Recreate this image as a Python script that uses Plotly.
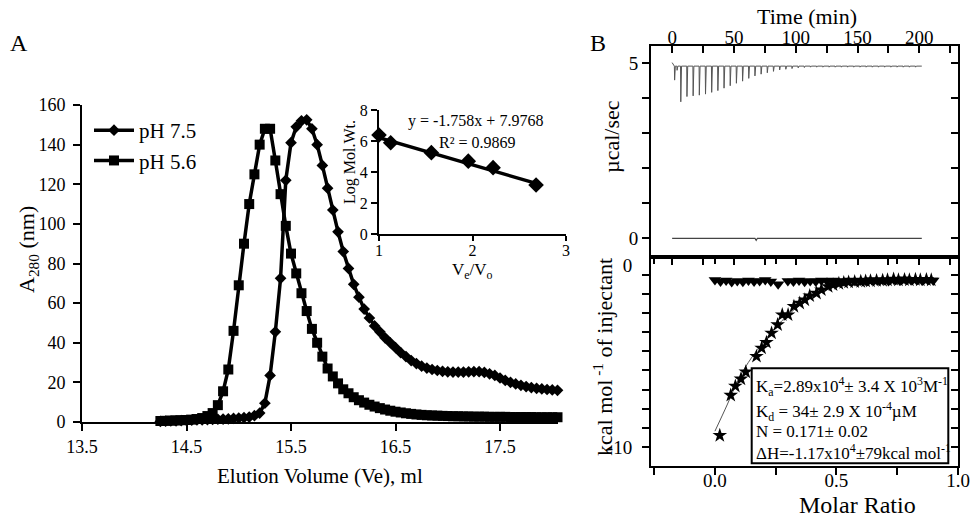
import plotly.graph_objects as go

SERIF = "Liberation Serif"
W, H = 970, 519

# ---------------- Panel A: elution profiles ----------------
volume = [14.25, 14.30, 14.35, 14.40, 14.45, 14.50, 14.55, 14.60, 14.65, 14.70,
          14.75, 14.80, 14.85, 14.90, 14.95, 15.00, 15.05, 15.10, 15.15, 15.20,
          15.25, 15.30, 15.35, 15.40, 15.45, 15.50, 15.55, 15.60, 15.65, 15.70,
          15.75, 15.80, 15.85, 15.90, 15.95, 16.00, 16.05, 16.10, 16.15, 16.20,
          16.25, 16.30, 16.35, 16.40, 16.45, 16.50, 16.55, 16.60, 16.65, 16.70,
          16.75, 16.80, 16.85, 16.90, 16.95, 17.00, 17.05, 17.10, 17.15, 17.20,
          17.25, 17.30, 17.35, 17.40, 17.45, 17.50, 17.55, 17.60, 17.65, 17.70,
          17.75, 17.80, 17.85, 17.90, 17.95, 18.00, 18.05]
ph75 = [0.3, 0.4, 0.5, 0.6, 0.7, 0.8, 0.9, 1.0, 1.1, 1.2,
        1.3, 1.4, 1.5, 1.6, 1.8, 2.0, 2.2, 2.5, 3.2, 4.5,
        9.5, 23.5, 45.5, 72.5, 122, 141, 149, 152, 152.5, 148,
        140, 129.5, 118, 107, 96, 86, 77.5, 69.5, 63, 57,
        52.5, 48.5, 45.5, 42.5, 40, 37.5, 35, 33, 31, 29.5,
        28.2, 27.2, 26.5, 26, 25.6, 25.3, 25.2, 25.2, 25.2, 25.3,
        25.4, 25.4, 25.0, 24.3, 23.5, 22.2, 21, 20, 19.2, 18.5,
        17.9, 17.4, 17, 16.7, 16.4, 16.2, 16.0]
ph56 = [0.5, 0.6, 0.7, 0.8, 0.9, 1.0, 1.2, 1.5, 2.0, 3.0,
        4.5, 8.5, 15.5, 26.5, 46, 69, 90, 110, 125, 140,
        148, 148, 132, 115, 99, 85, 75, 65, 56, 47,
        40, 33, 27, 23, 19.5, 16.5, 14.5, 12.5, 11, 9.8,
        8.7, 7.8, 7, 6.3, 5.7, 5.2, 4.8, 4.4, 4.1, 3.8,
        3.6, 3.4, 3.3, 3.2, 3.1, 3.0, 2.9, 2.9, 2.8, 2.8,
        2.7, 2.7, 2.7, 2.6, 2.6, 2.6, 2.6, 2.5, 2.5, 2.5,
        2.5, 2.5, 2.4, 2.4, 2.4, 2.4, 2.4]
a_xticks = [13.5, 14.5, 15.5, 16.5, 17.5]

# Inset calibration
ve_vo = [1.0, 1.125, 1.56, 1.955, 2.22, 2.68]
log_mw = [6.39, 5.89, 5.25, 4.70, 4.28, 3.16]
fit_slope, fit_intercept = -1.758, 7.9768

# ---------------- Panel B: ITC ----------------
inj_time = [2, 4, 7, 12, 17, 22, 27, 32, 37, 42, 47, 52, 57, 62, 67, 72, 77, 82, 87,
            92, 97, 102, 107, 112, 117, 122, 127, 132, 137, 142, 147, 152, 157,
            162, 167, 172, 177, 182, 187, 192, 197]
inj_trough = [4.52, 4.80, 3.90, 4.05, 4.07, 4.09, 4.12, 4.17, 4.22, 4.29, 4.36, 4.43,
              4.49, 4.57, 4.64, 4.69, 4.73, 4.77, 4.81, 4.83, 4.85, 4.87, 4.88,
              4.89, 4.89, 4.89, 4.89, 4.89, 4.89, 4.89, 4.89, 4.89, 4.89, 4.89,
              4.89, 4.89, 4.89, 4.89, 4.89, 4.89, 4.89]
raw_baseline = 4.92
raw_start = 5.02
raw_end_time = 202
ref_time = [0, 67, 68, 69, 202]
ref_power = [0, 0, -0.06, 0, 0]
time_ticks = [0, 50, 100, 150, 200]

star_x = [0.02, 0.065, 0.084, 0.107, 0.127, 0.171, 0.192, 0.212, 0.233, 0.258,
          0.277, 0.301, 0.325, 0.349, 0.37, 0.39, 0.418, 0.438, 0.466, 0.486,
          0.51, 0.53, 0.55, 0.575, 0.60, 0.62, 0.64, 0.665, 0.69, 0.71,
          0.735, 0.755, 0.78, 0.80, 0.825, 0.845, 0.87, 0.89]
star_y = [-9.38, -7.03, -6.50, -6.08, -5.67, -4.76, -4.27, -3.94, -3.40, -2.91,
          -2.33, -2.33, -1.84, -1.65, -1.46, -1.22, -1.07, -0.87, -0.68, -0.58,
          -0.50, -0.45, -0.42, -0.40, -0.38, -0.36, -0.35, -0.33, -0.32, -0.30,
          -0.25, -0.30, -0.28, -0.30, -0.27, -0.30, -0.28, -0.30]
tri_x = [0.0, 0.023, 0.046, 0.069, 0.092, 0.115, 0.138, 0.161, 0.184, 0.207,
         0.23, 0.26, 0.30, 0.323, 0.346, 0.369, 0.392, 0.415, 0.438, 0.461,
         0.484, 0.507, 0.53, 0.553, 0.576, 0.599, 0.622, 0.645, 0.668, 0.691,
         0.714, 0.737, 0.76, 0.783, 0.806, 0.829, 0.852, 0.875, 0.898]
tri_y = [-0.30, -0.38, -0.33, -0.42, -0.35, -0.40, -0.33, -0.38, -0.35, -0.30,
         -0.38, -0.55, -0.35, -0.38, -0.32, -0.40, -0.35, -0.38, -0.33, -0.36,
         -0.32, -0.38, -0.35, -0.33, -0.36, -0.32, -0.35, -0.30, -0.33, -0.30,
         -0.35, -0.28, -0.32, -0.25, -0.30, -0.28, -0.32, -0.28, -0.33]
fitc_x = [0.0, 0.05, 0.10, 0.15, 0.20, 0.25, 0.30, 0.35, 0.40, 0.45, 0.50, 0.55, 0.60, 0.70, 0.80, 0.90]
fitc_y = [-9.13, -7.6, -6.0, -4.85, -3.9, -3.05, -2.35, -1.75, -1.25, -0.9, -0.62, -0.45, -0.36, -0.30, -0.28, -0.27]
mr_ticks = [0.0, 0.5, 1.0]
mr_ticktext = ["0.0", "0.5", "1.0"]
fit_lines = ["K<sub>a</sub>=2.89x10<sup>4</sup>± 3.4 X 10<sup>3</sup>M<sup>-1</sup>",
             "K<sub>d</sub> = 34± 2.9 X 10<sup>-4</sup>µM",
             "N = 0.171± 0.02",
             "ΔH=-1.17x10<sup>4</sup>±79kcal mol<sup>-1</sup>"]


def px(x):
    return x / W


def py(y):
    return 1 - y / H


# build raw ITC thermogram from injection list
raw_t = [0]
raw_p = [raw_start]
for t, d in zip(inj_time, inj_trough):
    raw_t += [t - 0.2, t, t + 0.6]
    raw_p += [raw_baseline, d, raw_baseline]
raw_t.append(raw_end_time)
raw_p.append(raw_baseline)

fig = go.Figure()
fig.add_trace(go.Scatter(x=volume, y=ph75, name="pH 7.5", mode="lines+markers",
                         line=dict(color="black", width=3.5),
                         marker=dict(symbol="diamond", size=9, color="black"),
                         cliponaxis=False, xaxis="x", yaxis="y"))
fig.add_trace(go.Scatter(x=volume, y=ph56, name="pH 5.6", mode="lines+markers",
                         line=dict(color="black", width=3.5),
                         marker=dict(symbol="square", size=10, color="black"),
                         cliponaxis=False, xaxis="x", yaxis="y"))
# inset
fx = [ve_vo[0], ve_vo[-1]]
fig.add_trace(go.Scatter(x=fx, y=[fit_slope * v + fit_intercept for v in fx], mode="lines",
                         line=dict(color="black", width=3.5), showlegend=False,
                         xaxis="x2", yaxis="y2"))
fig.add_trace(go.Scatter(x=ve_vo, y=log_mw, mode="markers",
                         marker=dict(symbol="diamond", size=12, color="black"),
                         showlegend=False, cliponaxis=False, xaxis="x2", yaxis="y2"))
# ITC raw
fig.add_trace(go.Scatter(x=raw_t, y=raw_p, mode="lines", line=dict(color="#555", width=1),
                         showlegend=False, xaxis="x3", yaxis="y3"))
fig.add_trace(go.Scatter(x=ref_time, y=ref_power, mode="lines", line=dict(color="#444", width=1.2),
                         showlegend=False, xaxis="x3", yaxis="y3"))
# ITC integrated
fig.add_trace(go.Scatter(x=fitc_x, y=fitc_y, mode="lines", line=dict(color="#555", width=1, shape="spline"),
                         showlegend=False, xaxis="x4", yaxis="y4"))
fig.add_trace(go.Scatter(x=tri_x, y=tri_y, mode="markers",
                         marker=dict(symbol="triangle-down", size=11, color="black"),
                         showlegend=False, xaxis="x4", yaxis="y4"))
fig.add_trace(go.Scatter(x=star_x, y=star_y, mode="markers",
                         marker=dict(symbol="star", size=11, color="black"),
                         showlegend=False, xaxis="x4", yaxis="y4"))
# dummy traces for mirror axes
for xa, ya in [("x5", "y3"), ("x3", "y5"), ("x6", "y4"), ("x4", "y6")]:
    fig.add_trace(go.Scatter(x=[None], y=[None], mode="markers", showlegend=False,
                             hoverinfo="skip", xaxis=xa, yaxis=ya))

# ranges
a_xr = [13.5, 18.05]
t_range = [-17.1, 231.3]
p_range = [-0.534, 5.503]
mr_range = [-0.263, 1.0]
h_range = [-11.165, 1.048]
h_ticks = [-1.1165 * k for k in range(10)]

ax_common = dict(showgrid=False, zeroline=False, showline=True, linecolor="black",
                 linewidth=2, tickcolor="black", tickwidth=2, automargin=False,
                 tickfont=dict(family=SERIF, color="black"))

layout_axes = dict(
    xaxis=dict(ax_common, domain=[px(82), px(557.5)], range=a_xr, anchor="y",
               tickvals=a_xticks, ticks="outside", ticklen=7, tickfont=dict(family=SERIF, size=18)),
    yaxis=dict(ax_common, domain=[py(422), py(105)], range=[0, 160], anchor="x",
               dtick=20, ticks="outside", ticklen=7, tickfont=dict(family=SERIF, size=18),
               ticklabelstandoff=4),
    xaxis2=dict(ax_common, domain=[px(379), px(566)], range=[1, 3], anchor="y2",
                tickvals=[1, 2, 3], ticks="outside", ticklen=5, tickfont=dict(family=SERIF, size=16),
                ticklabelstandoff=-4),
    yaxis2=dict(ax_common, domain=[py(234), py(110)], range=[0, 8], anchor="x2",
                tickvals=[0, 2, 4, 6, 8], ticks="outside", ticklen=6, tickfont=dict(family=SERIF, size=16)),
    xaxis3=dict(ax_common, domain=[px(651), px(958)], range=t_range, anchor="y3", side="top",
                tickvals=time_ticks, ticks="inside", ticklen=7,
                minor=dict(tickvals=[25, 75, 125, 175, 225], ticks="inside", ticklen=7, tickcolor="black", tickwidth=2),
                tickfont=dict(family=SERIF, size=19), ticklabelstandoff=-8),
    yaxis3=dict(ax_common, domain=[py(257), py(45.7)], range=p_range, anchor="x3", side="left",
                tickvals=[0, 5], ticks="outside", ticklen=7, ticklabelposition="outside",
                minor=dict(tickvals=[1, 2, 3, 4], ticks="outside", ticklen=7, tickcolor="black", tickwidth=2),
                tickfont=dict(family=SERIF, size=19)),
    xaxis5=dict(ax_common, overlaying="x3", range=t_range, anchor="y3", side="bottom",
                tickvals=[0, 25, 50, 75, 100, 125, 150, 175, 200, 225], ticks="outside", ticklen=6,
                showticklabels=False),
    yaxis5=dict(ax_common, overlaying="y3", range=p_range, anchor="x3", side="right",
                tickvals=[0, 1, 2, 3, 4, 5], ticks="inside", ticklen=7, showticklabels=False),
    xaxis4=dict(ax_common, domain=[px(651), px(958)], range=mr_range, anchor="y4", side="bottom",
                tickvals=mr_ticks, ticktext=mr_ticktext, ticks="outside", ticklen=7,
                minor=dict(tickvals=[-0.25, 0.25, 0.75], ticks="outside", ticklen=7, tickcolor="black", tickwidth=2),
                tickfont=dict(family=SERIF, size=19), ticklabelstandoff=-11),
    yaxis4=dict(ax_common, domain=[py(466), py(257)], range=h_range, anchor="x4", side="left",
                tickvals=[0.55, -10.05], ticktext=["0", "-10"], ticks="outside", ticklen=0,
                minor=dict(tickvals=h_ticks, ticks="outside", ticklen=7, tickcolor="black", tickwidth=2),
                tickfont=dict(family=SERIF, size=19), ticklabelstandoff=13),
    xaxis6=dict(ax_common, overlaying="x4", range=mr_range, anchor="y4", side="top",
                tickvals=[-0.25, 0, 0.25, 0.5, 0.75, 1.0], ticks="inside", ticklen=7,
                showticklabels=False),
    yaxis6=dict(ax_common, overlaying="y4", range=h_range, anchor="x4", side="right",
                tickvals=h_ticks, ticks="inside", ticklen=7, showticklabels=False),
)

annotations = []


def note(text, x, y, size, angle=0, xanchor="center"):
    annotations.append(dict(text=text, x=px(x), y=py(y), xref="paper", yref="paper",
                            showarrow=False, textangle=angle, xanchor=xanchor, yanchor="middle",
                            font=dict(family=SERIF, size=size, color="black")))


note("A", 19, 43, 24)
note("B", 598, 43, 24)
note("A<sub>280</sub> (nm)", 28, 250, 22, -90)
note("Elution Volume (Ve), ml", 320, 476, 21)
note("Log Mol.Wt.", 350, 162, 16, -90)
note("V<sub>e</sub>/V<sub>o</sub>", 472, 271, 17)
note("y = -1.758x + 7.9768", 475, 121, 16)
note("R² = 0.9869", 477, 142, 16)
note("Time (min)", 807, 17, 22)
note("µcal/sec", 612, 137, 22, -90)
note("kcal mol<sup> -1</sup> of injectant", 603, 357, 22, -90)
note("Molar Ratio", 857, 505, 24)
for line, yy in zip(fit_lines, [386.7, 411.7, 431.7, 451.7]):
    note(line, 754, yy, 17, xanchor="left")

shapes = [dict(type="rect", xref="paper", yref="paper", x0=px(751.7), x1=px(948.3),
               y0=py(463.3), y1=py(368.3), line=dict(color="black", width=2))]

fig.update_layout(
    width=W, height=H, autosize=False,
    margin=dict(l=0, r=0, t=0, b=0, pad=0, autoexpand=False),
    paper_bgcolor="white", plot_bgcolor="rgba(0,0,0,0)",
    font=dict(family=SERIF, color="black"),
    showlegend=True,
    legend=dict(x=px(89), y=py(110), xanchor="left", yanchor="top",
                bgcolor="rgba(0,0,0,0)", font=dict(family=SERIF, size=21, color="black"),
                itemwidth=40, tracegroupgap=0),
    annotations=annotations, shapes=shapes,
    **layout_axes,
)

fig.write_html("out.html", config={"displayModeBar": False},
               post_script="document.body.style.margin='0px';")
